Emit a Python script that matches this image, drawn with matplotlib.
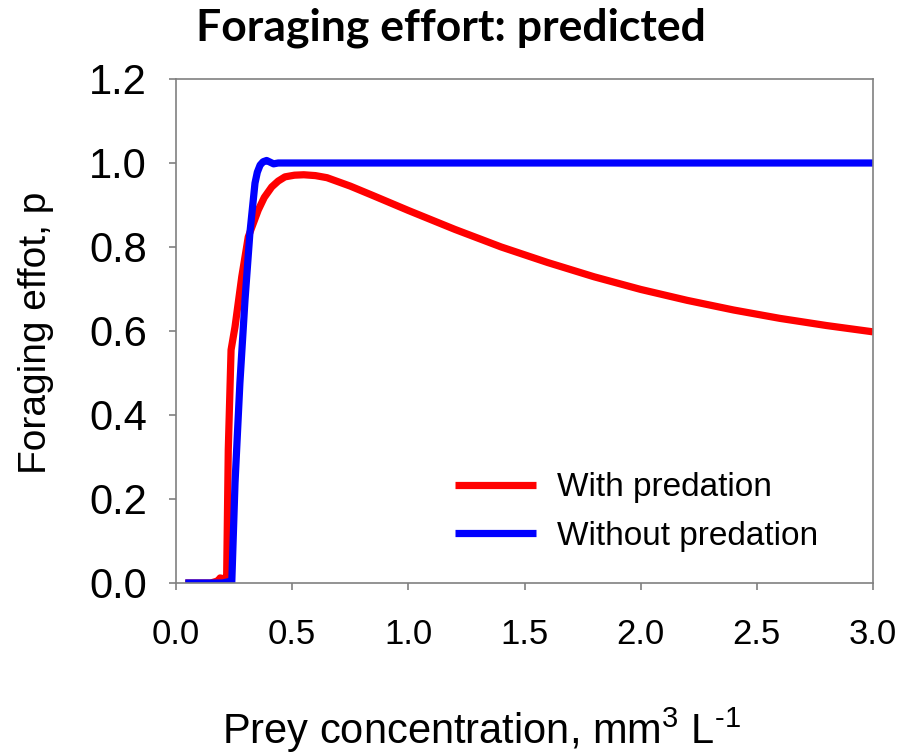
import matplotlib
matplotlib.use("Agg")
import matplotlib.pyplot as plt

# values
red_x = [0.04, 0.10, 0.15, 0.18, 0.19, 0.205, 0.218, 0.225, 0.237, 0.254, 0.283, 0.311,
         0.354, 0.38, 0.412, 0.44, 0.469, 0.51, 0.55, 0.60, 0.65, 0.75, 0.85, 1.0,
         1.2, 1.4, 1.6, 1.8, 2.0, 2.2, 2.4, 2.6, 2.8, 3.0]
red_y = [0, 0, 0, 0.005, 0.012, 0.01, 0.015, 0.317, 0.555, 0.61, 0.729, 0.824,
         0.888, 0.918, 0.943, 0.957, 0.967, 0.971, 0.972, 0.970, 0.965, 0.945, 0.922, 0.887,
         0.842, 0.800, 0.763, 0.729, 0.699, 0.673, 0.650, 0.630, 0.613, 0.598]

blue_x = [0.04, 0.10, 0.15, 0.20, 0.225, 0.24, 0.254, 0.275, 0.297, 0.318, 0.34, 0.35,
          0.362, 0.375, 0.39, 0.405, 0.42, 0.44, 1.0, 2.0, 3.0]
blue_y = [0, 0, 0, 0, 0.003, 0.0, 0.238, 0.476, 0.674, 0.833, 0.952, 0.978,
          0.995, 1.003, 1.006, 1.002, 0.998, 1.0, 1.0, 1.0, 1.0]

x_ticks = [0.0, 0.5, 1.0, 1.5, 2.0, 2.5, 3.0]
y_ticks = [0.0, 0.2, 0.4, 0.6, 0.8, 1.0, 1.2]

plt.rcParams['font.family'] = ['Liberation Sans', 'DejaVu Sans']
plt.rcParams['mathtext.fontset'] = 'custom'
plt.rcParams['mathtext.rm'] = 'Liberation Sans'
plt.rcParams['mathtext.it'] = 'Liberation Sans'

fig = plt.figure(figsize=(9.02, 7.56), dpi=100)
ax = fig.add_axes([176 / 902, 1 - 583 / 756, 697 / 902, 504 / 756])

ax.plot(red_x, red_y, color='#ff0000', lw=5.2, solid_capstyle='butt',
        solid_joinstyle='round', label='With predation')
ax.plot(blue_x, blue_y, color='#0000ff', lw=5.2, solid_capstyle='butt',
        solid_joinstyle='round', label='Without predation')

ax.set_xlim(0, 3.0)
ax.set_ylim(0, 1.2)
ax.set_xticks(x_ticks)
ax.set_yticks(y_ticks)
ax.set_xticklabels([f'{t:.1f}' for t in x_ticks], fontsize=25)
ax.set_yticklabels([f'{t:.1f}' for t in y_ticks], fontsize=30)

for s in ax.spines.values():
    s.set_color('#808080')
    s.set_linewidth(1.2)
ax.tick_params(axis='both', direction='out', color='#808080', width=1.2, length=5)
ax.tick_params(axis='y', pad=16)
ax.tick_params(axis='x', pad=20)

ax.legend(loc='center left', bbox_to_anchor=(0.40, 0.141), frameon=False, fontsize=24,
          handlelength=2.45, handletextpad=0.63, labelspacing=0.52,
          borderpad=0, borderaxespad=0)

fig.text(0.5, 1 - 40 / 756, 'Foraging effort: predicted', ha='center', va='baseline',
         fontsize=32, fontweight='bold', family=['Lato', 'DejaVu Sans'])
fig.text(222 / 902, 1 - 744 / 756, r'Prey concentration, mm$^{3}$ L$^{\text{-}1}$', ha='left',
         va='baseline', fontsize=30)
fig.text(36 / 902, 1 - 333 / 756, 'Foraging effot, p', rotation=90, ha='center',
         va='center', fontsize=28)

fig.savefig('out.png', dpi=100)
